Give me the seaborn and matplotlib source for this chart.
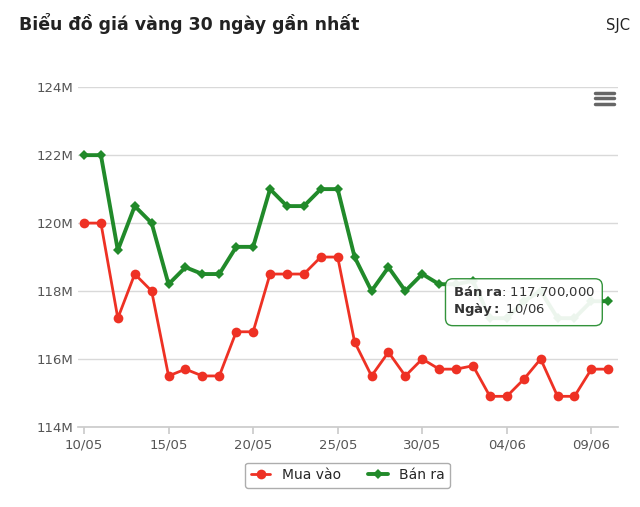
import matplotlib
matplotlib.use("Agg")
import matplotlib.pyplot as plt
import seaborn as sns
import pandas as pd
import numpy as np

dates = ["10/05","11/05","12/05","13/05","14/05","15/05","16/05","17/05","18/05","19/05","20/05",
         "21/05","22/05","23/05","24/05","25/05","26/05","27/05","28/05","29/05","30/05","31/05",
         "01/06","02/06","03/06","04/06","05/06","06/06","07/06","08/06","09/06","10/06"]
mua_vao = [120,120,117.2,118.5,118,115.5,115.7,115.5,115.5,116.8,116.8,118.5,118.5,118.5,119,119,
           116.5,115.5,116.2,115.5,116,115.7,115.7,115.8,114.9,114.9,115.4,116,114.9,114.9,115.7,115.7]
ban_ra = [122,122,119.2,120.5,120,118.2,118.7,118.5,118.5,119.3,119.3,121,120.5,120.5,121,121,
          119,118,118.7,118,118.5,118.2,118.2,118.3,117.2,117.2,117.7,118,117.2,117.2,117.7,117.7]
yticks = [114,116,118,120,122,124]
xtick_labels = ["10/05","15/05","20/05","25/05","30/05","04/06","09/06"]

sns.set_theme(style="white")
plt.rcParams['font.family'] = ['DejaVu Sans']
fig = plt.figure(figsize=(6.4,5.07), dpi=100)
ax = fig.add_axes([0.122, 0.158, 0.843, 0.67])
x = np.arange(len(dates))
df = pd.DataFrame({"x": np.concatenate([x,x]), "v": mua_vao+ban_ra,
                   "s": ["Mua vào"]*len(x)+["Bán ra"]*len(x)})
sns.lineplot(data=df[df.s=="Mua vào"], x="x", y="v", color="#ee3124", lw=2, marker="o",
             markersize=7, markeredgewidth=0, ax=ax, label="Mua vào")
sns.lineplot(data=df[df.s=="Bán ra"], x="x", y="v", color="#218a2a", lw=2.8, marker="D",
             markersize=5, markeredgewidth=0, ax=ax, label="Bán ra")
ax.set_xlim(-0.35, len(x)-0.45)
ax.set_ylim(114, 124)
ax.set_yticks(yticks)
ax.set_yticklabels([f"{t}M" for t in yticks], color="#555555", fontsize=9.5)
ax.set_xticks([dates.index(d) for d in xtick_labels])
ax.set_xticklabels(xtick_labels, color="#555555", fontsize=9.5)
ax.grid(axis="y", color="#d9d9d9", lw=1)
for s in ["top","right","left"]:
    ax.spines[s].set_visible(False)
ax.spines["bottom"].set_color("#cccccc")
ax.tick_params(axis="x", length=5, color="#cccccc", bottom=True)
ax.tick_params(axis="y", length=0)
ax.set_xlabel(""); ax.set_ylabel("")
leg = ax.legend(loc="upper center", bbox_to_anchor=(0.5, -0.085), ncol=2, frameon=True,
                fontsize=10, fancybox=True, edgecolor="#999999", handlelength=1.4)
ax.annotate("$\\bf{Bán\\ ra}$: 117,700,000\n$\\bf{Ngày:}$ 10/06", xy=(len(x)-1, 117.7), xytext=(-112, 0),
            textcoords="offset points", fontsize=9.5, va="center", ha="left", color="#333333",
            bbox=dict(boxstyle="round,pad=0.55", fc="white", ec="#218a2a", lw=1, alpha=0.92))
fig.text(0.03, 0.94, "Biểu đồ giá vàng 30 ngày gần nhất", fontsize=12.5, fontweight="bold", color="#222222")
fig.text(0.985, 0.94, "SJC", fontsize=10.5, ha="right", color="#222222")
for dy in [0, 0.011, 0.022]:
    fig.add_artist(plt.Line2D([0.93, 0.96], [0.795+dy]*2, color="#666666", lw=2.5))
fig.savefig("out.png", dpi=100, facecolor="white")
